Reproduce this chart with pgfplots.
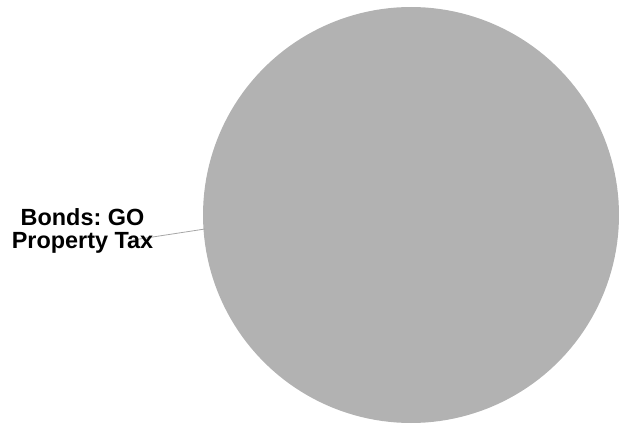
\documentclass[border=0pt]{standalone}
\usepackage{pgfplots}
\pgfplotsset{compat=1.18}
\usepackage{fontspec}
\setmainfont{Liberation Sans}
\frenchspacing
\definecolor{slice}{HTML}{B2B2B2}
\definecolor{leader}{HTML}{A6A6A6}
\begin{document}
\begin{tikzpicture}
% pie data: one category, share in percent
\def\share{100}
\def\total{100}
\begin{axis}[
  width=619bp, height=426bp, scale only axis,
  xmin=0, xmax=619, ymin=0, ymax=426, y dir=reverse,
  hide axis, clip=false,
]
\addplot[fill=slice, draw=none, domain=90:{90-360*\share/\total}, samples=181]
  ({411+208*cos(x)}, {215-208*sin(x)}) -- (axis cs:411,215) -- cycle;
\addplot[leader, line width=0.8pt] coordinates {(133,240) (205,229)};
\node[font=\bfseries\fontsize{23.5}{23.5}\selectfont, align=center, inner sep=0pt]
  at (axis cs:82.5,231) {Bonds: GO\\Property Tax};
\end{axis}
\path[use as bounding box] (current axis.south west) rectangle (current axis.north east);
\end{tikzpicture}
\end{document}
